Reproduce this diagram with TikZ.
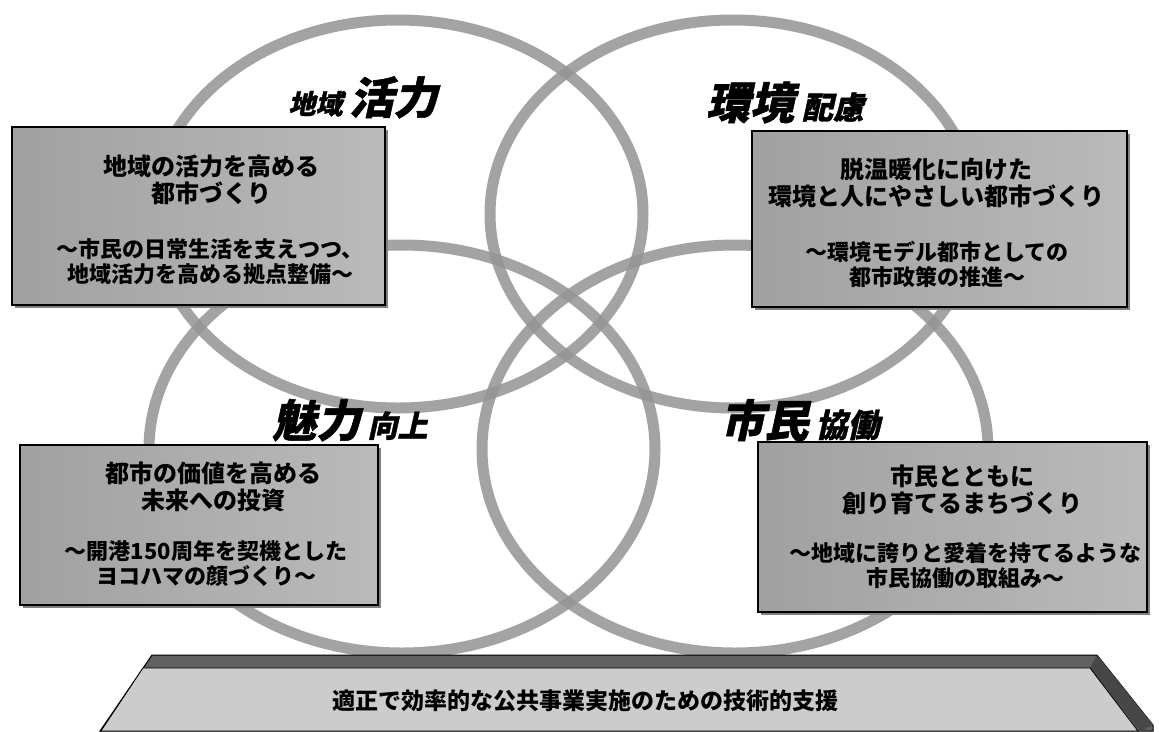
\documentclass[tikz,border=0pt]{standalone}
\usepackage{fontspec}
\newfontfamily\jp{Noto Sans CJK JP}
\newfontfamily\jpti[FakeSlant=0.22, FakeBold=1.2]{Noto Sans CJK JP}
\begin{document}
\begin{tikzpicture}[x=1pt,y=-1pt,
  ring/.style={draw=black!42, line width=11pt, draw opacity=0.85},
  panel/.style={draw=black, line width=1.6pt, left color=black!37, right color=black!27, inner sep=0pt},
  shadowbox/.style={fill=black!50, draw=none, inner sep=0pt},
  maintext/.style={font=\jp\bfseries\fontsize{24}{27}\selectfont, align=center, inner sep=0pt},
  subtext/.style={font=\jp\bfseries\fontsize{22}{25}\selectfont, align=center, inner sep=0pt},
  title/.style={font=\jpti\bfseries, anchor=base, inner sep=0pt},
  bartext/.style={font=\jp\bfseries\fontsize{23}{23}\selectfont, inner sep=0pt}
]
\useasboundingbox[fill=white] (0,0) rectangle (1159,731);

% rings
\draw[ring] (398,214) ellipse [x radius=245pt, y radius=194pt];
\draw[ring] (733,214) ellipse [x radius=243pt, y radius=194pt];
\draw[ring] (402,449) ellipse [x radius=253pt, y radius=204pt];
\draw[ring] (735,449) ellipse [x radius=253pt, y radius=204pt];

% shadows of panels
\node[shadowbox, minimum width=373pt, minimum height=178pt] (tls) at (201.5,219) {};
\node[shadowbox, minimum width=375pt, minimum height=176pt] (trs) at (942.5,222) {};
\node[shadowbox, minimum width=358pt, minimum height=160pt] (bls) at (202,528) {};
\node[shadowbox, minimum width=389pt, minimum height=170pt] (brs) at (955.5,530) {};

% panels
\node[panel, minimum width=373pt, minimum height=178pt] (tlb) at (198.5,216) {};
\node[panel, minimum width=375pt, minimum height=176pt] (trb) at (939.5,219) {};
\node[panel, minimum width=358pt, minimum height=160pt] (blb) at (199,525) {};
\node[panel, minimum width=389pt, minimum height=170pt] (brb) at (952.5,527) {};

% panel texts
\node[maintext] (tlm) at (211,180) {地域の活力を高める\\都市づくり};
\node[subtext]  (tls2) at (210,262) {～市民の日常生活を支えつつ、\\地域活力を高める拠点整備～};
\node[maintext] (trm) at (936,183) {脱温暖化に向けた\\環境と人にやさしい都市づくり};
\node[subtext]  (trs2) at (937,264) {～環境モデル都市としての\\都市政策の推進～};
\node[maintext] (blm) at (213,487) {都市の価値を高める\\未来への投資};
\node[subtext]  (bls2) at (206,564) {～開港150周年を契機とした\\ヨコハマの顔づくり～};
\node[maintext] (brm) at (962,490) {市民とともに\\創り育てるまちづくり};
\node[subtext]  (brs2) at (965,566) {～地域に誇りと愛着を持てるような\\市民協働の取組み～};

% titles
\node[title] (t1) at (363,114) {{\fontsize{27}{27}\selectfont 地域}\hspace{7pt}{\fontsize{44}{44}\selectfont 活力}};
\node[title] (t2) at (785,119) {{\fontsize{44}{44}\selectfont 環境}\hspace{8pt}{\fontsize{31}{31}\selectfont 配慮}};
\node[title] (t3) at (350,437) {{\fontsize{44}{44}\selectfont 魅力}\hspace{7pt}{\fontsize{30}{30}\selectfont 向上}};
\node[title] (t4) at (800,437) {{\fontsize{44}{44}\selectfont 市民}\hspace{7pt}{\fontsize{32}{32}\selectfont 協働}};

% bottom bar
\fill[black!62, draw=black, line width=1pt] (100,731) -- (152,655) -- (1097,655) -- (1153,725) -- (1153,731) -- cycle;
\fill[black!72] (1090,668) -- (1097,655) -- (1153,725) -- (1140,731) -- cycle;
\fill[black!20, draw=black, line width=0.8pt] (101,731) -- (143,668) -- (1090,668) -- (1138,731) -- cycle;
\node[bartext] (bar) at (585,701) {適正で効率的な公共事業実施のための技術的支援};
\end{tikzpicture}
\end{document}
